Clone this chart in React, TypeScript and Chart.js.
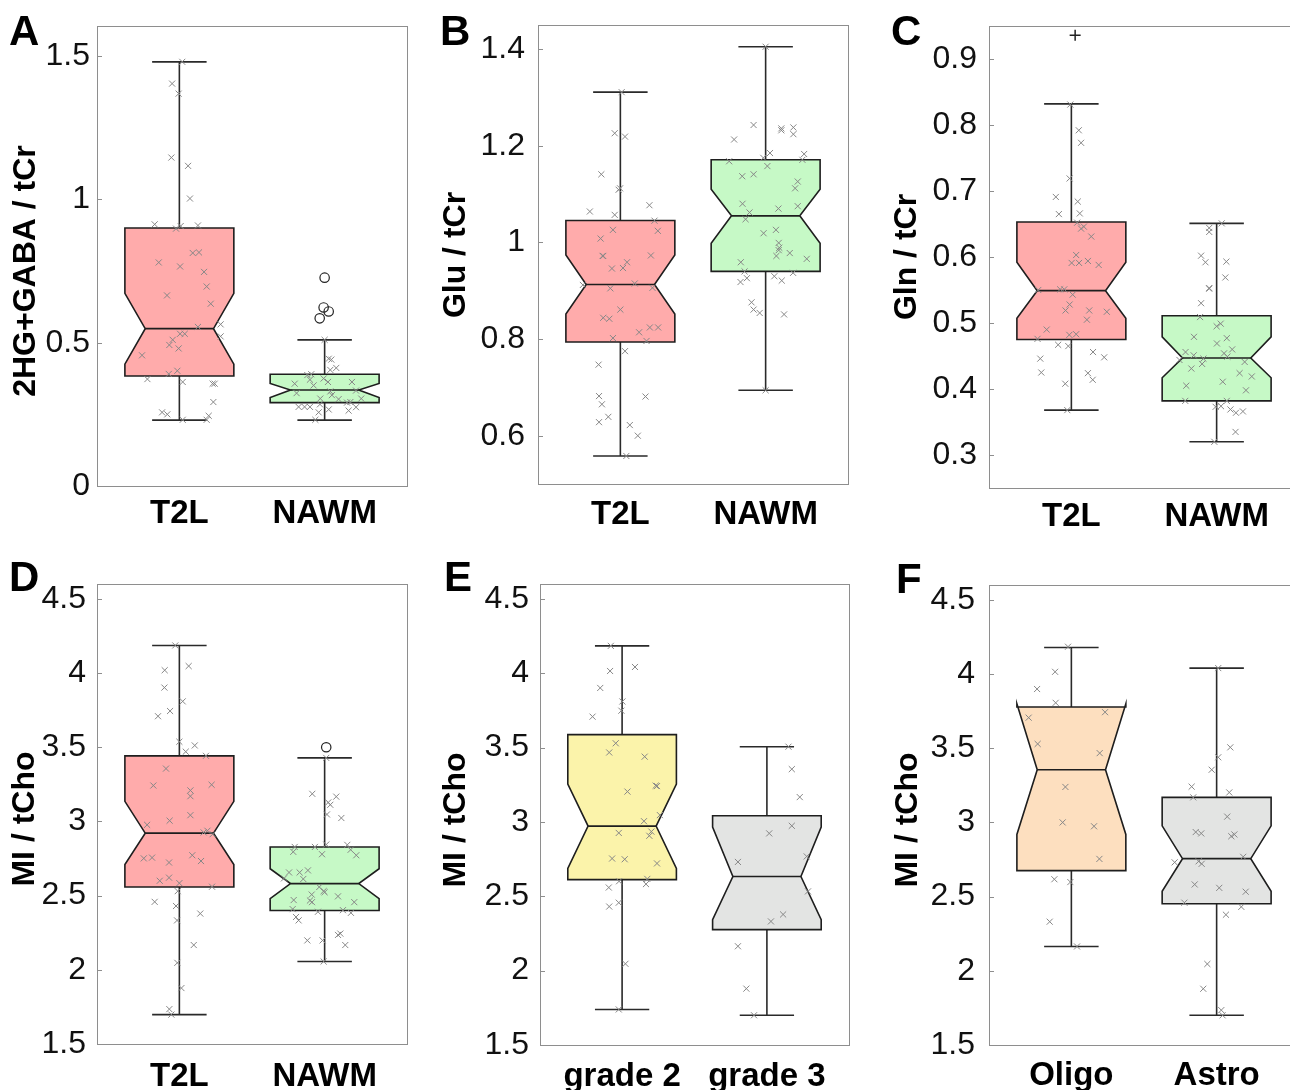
import React, { useEffect, useRef } from "react";
import { Chart, registerables } from "chart.js";

Chart.register(...registerables);

type Pt = [number, number];

// box statistics order: [whiskerLow, q1, notchLow, median, notchHigh, q3, whiskerHigh]

// ---------------- Panel A : 2HG+GABA / tCr ----------------
const catsA = ["T2L", "NAWM"];
const yTicksA = [0, 0.5, 1, 1.5];
const boxA_T2L = [0.23, 0.384, 0.425, 0.549, 0.672, 0.9, 1.48];
const boxA_NAWM = [0.23, 0.291, 0.309, 0.335, 0.358, 0.39, 0.51];
const ptsA_T2L: Pt[] = [
  [1.02, 1.48], [0.95, 1.404], [0.995, 1.369], [0.945, 1.146], [1.06, 1.117], [1.073, 1.003],
  [0.83, 0.913], [0.977, 0.898], [1.009, 0.907], [1.128, 0.909], [1.092, 0.813], [1.135, 0.815],
  [0.858, 0.78], [1.005, 0.766], [1.17, 0.747], [1.188, 0.696], [0.915, 0.665], [1.216, 0.636],
  [1.128, 0.555], [1.284, 0.564], [1.284, 0.522], [1.005, 0.531], [1.037, 0.531], [0.954, 0.51],
  [0.931, 0.492], [0.995, 0.48], [0.743, 0.456], [0.986, 0.402], [0.927, 0.391], [0.78, 0.373],
  [1.023, 0.363], [1.229, 0.357], [1.243, 0.357], [1.234, 0.293], [0.881, 0.257], [0.917, 0.25],
  [1.202, 0.245], [1.023, 0.231], [1.188, 0.231],
];
const ptsA_NAWM: Pt[] = [
  [2.0, 0.51], [2.028, 0.444], [2.046, 0.441], [2.08, 0.412], [2.039, 0.405], [1.881, 0.387],
  [1.908, 0.39], [1.993, 0.375], [2.023, 0.363], [1.794, 0.357], [1.924, 0.351], [2.188, 0.363],
  [1.899, 0.371], [2.216, 0.333], [1.807, 0.324], [2.039, 0.33], [1.97, 0.305], [2.096, 0.303],
  [2.05, 0.317], [2.154, 0.291], [2.252, 0.305], [2.177, 0.293], [1.821, 0.276], [1.862, 0.276],
  [1.899, 0.276], [1.968, 0.285], [2.028, 0.267], [2.165, 0.263], [2.216, 0.275], [1.959, 0.257],
  [1.936, 0.231],
];
const outA: Pt[] = [[2.0, 0.727], [1.993, 0.623], [2.028, 0.609], [1.966, 0.585]];

// ---------------- Panel B : Glu / tCr ----------------
const catsB = ["T2L", "NAWM"];
const yTicksB = [0.6, 0.8, 1, 1.2, 1.4];
const boxB_T2L = [0.558, 0.794, 0.852, 0.913, 0.974, 1.0455, 1.311];
const boxB_NAWM = [0.694, 0.94, 0.998, 1.055, 1.11, 1.171, 1.405];
const ptsB_T2L: Pt[] = [
  [1.009, 1.311], [0.961, 1.226], [1.032, 1.219], [0.869, 1.141], [0.988, 1.109], [0.998, 1.112],
  [0.79, 1.064], [0.961, 1.057], [1.2, 1.077], [1.235, 1.045], [1.258, 1.024], [0.949, 1.026],
  [0.864, 1.008], [0.878, 0.972], [0.882, 0.972], [1.21, 0.973], [0.942, 0.946], [1.018, 0.947],
  [1.046, 0.959], [0.742, 0.912], [1.099, 0.915], [1.221, 0.906], [0.931, 0.905], [1.0, 0.861],
  [0.882, 0.844], [0.924, 0.842], [1.129, 0.814], [1.203, 0.824], [1.26, 0.824], [0.949, 0.802],
  [1.18, 0.796], [1.032, 0.775], [0.85, 0.747], [0.853, 0.682], [0.873, 0.665], [1.173, 0.681],
  [0.917, 0.639], [0.853, 0.628], [1.065, 0.622], [1.12, 0.6], [1.041, 0.558],
];
const ptsB_NAWM: Pt[] = [
  [2.0, 1.405], [1.917, 1.243], [1.783, 1.213], [2.108, 1.236], [2.108, 1.232], [2.191, 1.238],
  [2.191, 1.224], [2.03, 1.185], [2.265, 1.183], [2.253, 1.171], [1.984, 1.175], [1.749, 1.168],
  [2.012, 1.158], [1.839, 1.137], [1.917, 1.141], [2.221, 1.126], [2.203, 1.112], [1.841, 1.08],
  [2.221, 1.075], [2.088, 1.07], [1.889, 1.062], [1.862, 1.048], [2.071, 1.026], [1.986, 1.019],
  [2.09, 0.999], [2.094, 0.989], [2.09, 0.984], [2.074, 0.972], [2.166, 0.978], [2.283, 0.966],
  [1.829, 0.959], [1.855, 0.94], [2.189, 0.937], [2.06, 0.93], [1.871, 0.926], [1.827, 0.918],
  [2.111, 0.921], [1.903, 0.876], [1.917, 0.861], [1.959, 0.854], [2.127, 0.851], [2.0, 0.694],
];

// ---------------- Panel C : Gln / tCr ----------------
const catsC = ["T2L", "NAWM"];
const yTicksC = [0.3, 0.4, 0.5, 0.6, 0.7, 0.8, 0.9];
const boxC_T2L = [0.368, 0.475, 0.507, 0.549, 0.592, 0.653, 0.832];
const boxC_NAWM = [0.32, 0.382, 0.417, 0.447, 0.479, 0.511, 0.651];
const ptsC_T2L: Pt[] = [
  [0.993, 0.831], [1.051, 0.792], [1.067, 0.773], [0.988, 0.719], [0.893, 0.691], [1.044, 0.684],
  [0.914, 0.665], [1.058, 0.666], [1.04, 0.652], [1.086, 0.646], [1.067, 0.643], [1.137, 0.631],
  [1.033, 0.603], [1.002, 0.591], [1.053, 0.591], [1.114, 0.594], [1.188, 0.588], [0.772, 0.55],
  [0.923, 0.551], [0.951, 0.551], [1.009, 0.543], [0.988, 0.528], [0.96, 0.519], [1.123, 0.519],
  [1.244, 0.517], [1.107, 0.505], [0.83, 0.49], [0.767, 0.476], [0.986, 0.482], [1.033, 0.483],
  [0.909, 0.467], [0.979, 0.465], [0.786, 0.446], [1.149, 0.456], [1.226, 0.448], [0.793, 0.425],
  [1.114, 0.424], [1.147, 0.414], [0.958, 0.408], [0.972, 0.368],
];
const ptsC_NAWM: Pt[] = [
  [2.035, 0.651], [1.949, 0.644], [1.949, 0.638], [1.893, 0.602], [1.923, 0.592], [2.067, 0.593],
  [2.06, 0.569], [1.949, 0.553], [1.949, 0.552], [1.893, 0.53], [1.886, 0.509], [2.0, 0.495],
  [2.028, 0.499], [1.844, 0.479], [2.002, 0.469], [2.07, 0.477], [2.107, 0.46], [2.051, 0.454],
  [2.074, 0.449], [1.786, 0.456], [1.842, 0.451], [1.909, 0.446], [1.744, 0.444], [1.9, 0.438],
  [2.193, 0.441], [1.826, 0.431], [2.158, 0.424], [2.242, 0.419], [2.042, 0.411], [1.791, 0.405],
  [2.202, 0.398], [1.784, 0.382], [2.07, 0.382], [1.993, 0.373], [2.03, 0.374], [2.095, 0.369],
  [2.133, 0.364], [2.181, 0.366], [2.13, 0.335], [1.984, 0.32],
];
const outC: Pt[] = [[1.026, 0.936]];

// ---------------- Panel D : MI / tCho (T2L vs NAWM) ----------------
const catsD = ["T2L", "NAWM"];
const yTicksD = [1.5, 2, 2.5, 3, 3.5, 4, 4.5];
const boxD_T2L = [1.698, 2.558, 2.709, 2.921, 3.135, 3.442, 4.186];
const boxD_NAWM = [2.056, 2.4, 2.479, 2.581, 2.681, 2.828, 3.428];
const ptsD_T2L: Pt[] = [
  [0.972, 4.186], [1.064, 4.047], [0.899, 4.019], [0.897, 3.902], [0.936, 3.744], [1.023, 3.809],
  [0.853, 3.709], [1.0, 3.537], [1.044, 3.47], [1.106, 3.512], [1.183, 3.442], [0.908, 3.356],
  [0.821, 3.242], [1.222, 3.247], [1.076, 3.209], [1.076, 3.17], [1.076, 3.042], [0.933, 3.005],
  [0.778, 2.977], [1.167, 2.926], [1.193, 2.937], [1.229, 2.914], [0.755, 2.751], [0.812, 2.756],
  [1.089, 2.772], [0.929, 2.723], [1.149, 2.733], [0.865, 2.6], [0.929, 2.621], [1.0, 2.584],
  [1.225, 2.56], [0.989, 2.53], [0.83, 2.458], [0.977, 2.43], [1.144, 2.379], [0.984, 2.333],
  [1.099, 2.167], [0.986, 2.047], [1.014, 1.877], [0.931, 1.735], [0.945, 1.698],
];
const ptsD_NAWM: Pt[] = [
  [2.011, 3.428], [1.915, 3.186], [2.025, 3.128], [2.039, 3.112], [2.08, 3.167], [2.016, 3.047],
  [2.115, 3.023], [2.011, 2.844], [1.794, 2.828], [1.784, 2.795], [1.933, 2.828], [1.982, 2.779],
  [2.156, 2.842], [2.179, 2.809], [2.218, 2.772], [1.755, 2.656], [1.828, 2.656], [1.885, 2.67],
  [1.853, 2.612], [1.72, 2.616], [1.963, 2.558], [1.993, 2.53], [2.0, 2.523], [1.911, 2.507],
  [2.092, 2.495], [1.787, 2.47], [1.899, 2.467], [1.913, 2.456], [2.204, 2.456], [1.78, 2.409],
  [1.954, 2.391], [2.126, 2.402], [2.181, 2.384], [1.803, 2.356], [1.821, 2.333], [2.092, 2.235],
  [2.108, 2.244], [2.142, 2.167], [1.881, 2.198], [1.986, 2.198], [1.993, 2.056],
];
const outD: Pt[] = [[2.011, 3.5]];

// ---------------- Panel E : MI / tCho (grade) ----------------
const catsE = ["grade 2", "grade 3"];
const yTicksE = [1.5, 2, 2.5, 3, 3.5, 4, 4.5];
const boxE_G2 = [1.739, 2.612, 2.687, 2.972, 3.255, 3.587, 4.184];
const boxE_G3 = [1.7, 2.276, 2.343, 2.633, 2.965, 3.042, 3.506];
const ptsE_G2: Pt[] = [
  [0.922, 4.184], [0.917, 4.015], [1.089, 4.042], [0.849, 3.901], [1.002, 3.81], [0.995, 3.748],
  [0.796, 3.708], [0.956, 3.529], [0.911, 3.467], [1.156, 3.439], [1.037, 3.204], [1.232, 3.244],
  [1.241, 3.241], [1.151, 3.005], [1.261, 3.046], [0.977, 2.926], [1.202, 2.935], [1.188, 2.907],
  [0.931, 2.754], [1.018, 2.749], [1.241, 2.721], [0.979, 2.601], [1.174, 2.617], [1.165, 2.582],
  [0.908, 2.559], [0.911, 2.431], [0.977, 2.457], [1.023, 2.046], [0.977, 1.739],
];
const ptsE_G3: Pt[] = [
  [2.149, 3.506], [2.172, 3.355], [2.227, 3.167], [2.172, 2.974], [2.016, 2.923], [1.8, 2.731],
  [2.275, 2.768], [2.284, 2.533], [2.112, 2.378], [2.028, 2.331], [1.8, 2.164], [1.858, 1.879],
  [1.911, 1.7],
];

// ---------------- Panel F : MI / tCho (histology) ----------------
const catsF = ["Oligo", "Astro"];
const yTicksF = [1.5, 2, 2.5, 3, 3.5, 4, 4.5];
const boxF_Oligo = [2.164, 2.675, 2.919, 3.355, 3.8, 3.778, 4.179];
const boxF_Astro = [1.7, 2.452, 2.536, 2.756, 2.977, 3.169, 4.04];
const ptsF_Oligo: Pt[] = [
  [0.977, 4.184], [0.888, 4.015], [0.764, 3.899], [0.892, 3.806], [0.706, 3.706], [1.232, 3.743],
  [0.768, 3.529], [1.195, 3.467], [0.959, 3.239], [0.94, 3.0], [1.156, 2.974], [1.193, 2.754],
  [0.883, 2.617], [0.993, 2.598], [0.851, 2.331], [1.039, 2.164],
];
const ptsF_Astro: Pt[] = [
  [2.011, 4.04], [2.094, 3.506], [2.011, 3.439], [1.966, 3.355], [1.828, 3.241], [2.087, 3.202],
  [1.839, 3.169], [2.073, 3.039], [1.856, 2.935], [1.894, 2.926], [2.101, 2.907], [2.122, 2.919],
  [1.711, 2.731], [1.876, 2.738], [1.897, 2.721], [2.183, 2.768], [1.849, 2.582], [2.018, 2.559],
  [2.2, 2.533], [1.778, 2.459], [2.17, 2.431], [2.064, 2.378], [1.936, 2.046], [1.908, 1.879],
  [2.032, 1.735], [2.041, 1.7],
];

// ---------------- colours ----------------
const RED = "#ffabab";
const GREEN = "#c6f9c6";
const YELLOW = "#fbf3aa";
const GREY = "#e3e4e3";
const PEACH = "#fddfbf";

const FONT = '"Liberation Sans", Arial, Helvetica, sans-serif';

interface PanelCfg {
  letter: string;
  ylabel: string;
  cats: string[];
  yTicks: number[];
  yMin: number;
  yMax: number;
  boxes: number[][];
  colors: string[];
  points: Pt[][];
  outliers: Pt[];
  outlierStyle: "circle" | "cross";
  canvas: { x: number; y: number; w: number; h: number };
  frame: { l: number; t: number; r: number; b: number };
  tickPad: number;
  xPad: number;
  titleX: number;
  titleY: number;
  letterX: number;
  letterY: number;
}

const panels: PanelCfg[] = [
  {
    letter: "A", ylabel: "2HG+GABA / tCr", cats: catsA, yTicks: yTicksA, yMin: 0, yMax: 1.605,
    boxes: [boxA_T2L, boxA_NAWM], colors: [RED, GREEN], points: [ptsA_T2L, ptsA_NAWM],
    outliers: outA, outlierStyle: "circle",
    canvas: { x: 0, y: 0, w: 430, h: 545 }, frame: { l: 97, t: 26, r: 407, b: 486 },
    tickPad: 7, xPad: 8, titleX: 26, titleY: 271, letterX: 9, letterY: 45,
  },
  {
    letter: "B", ylabel: "Glu / tCr", cats: catsB, yTicks: yTicksB, yMin: 0.5, yMax: 1.45,
    boxes: [boxB_T2L, boxB_NAWM], colors: [RED, GREEN], points: [ptsB_T2L, ptsB_NAWM],
    outliers: [], outlierStyle: "circle",
    canvas: { x: 430, y: 0, w: 440, h: 545 }, frame: { l: 538, t: 25, r: 848, b: 484 },
    tickPad: 13, xPad: 11, titleX: 456, titleY: 255, letterX: 440, letterY: 45,
  },
  {
    letter: "C", ylabel: "Gln / tCr", cats: catsC, yTicks: yTicksC, yMin: 0.25, yMax: 0.95,
    boxes: [boxC_T2L, boxC_NAWM], colors: [RED, GREEN], points: [ptsC_T2L, ptsC_NAWM],
    outliers: outC, outlierStyle: "cross",
    canvas: { x: 870, y: 0, w: 450, h: 545 }, frame: { l: 989, t: 26, r: 1299, b: 488 },
    tickPad: 12, xPad: 9, titleX: 907, titleY: 257, letterX: 891, letterY: 45,
  },
  {
    letter: "D", ylabel: "MI / tCho", cats: catsD, yTicks: yTicksD, yMin: 1.5, yMax: 4.6,
    boxes: [boxD_T2L, boxD_NAWM], colors: [RED, GREEN], points: [ptsD_T2L, ptsD_NAWM],
    outliers: outD, outlierStyle: "circle",
    canvas: { x: 0, y: 545, w: 430, h: 545 }, frame: { l: 97, t: 584, r: 407, b: 1044 },
    tickPad: 11, xPad: 13, titleX: 25, titleY: 819, letterX: 9, letterY: 591,
  },
  {
    letter: "E", ylabel: "MI / tCho", cats: catsE, yTicks: yTicksE, yMin: 1.5, yMax: 4.6,
    boxes: [boxE_G2, boxE_G3], colors: [YELLOW, GREY], points: [ptsE_G2, ptsE_G3],
    outliers: [], outlierStyle: "circle",
    canvas: { x: 430, y: 545, w: 440, h: 545 }, frame: { l: 540, t: 584, r: 849, b: 1045 },
    tickPad: 11, xPad: 12, titleX: 456, titleY: 820, letterX: 444, letterY: 591,
  },
  {
    letter: "F", ylabel: "MI / tCho", cats: catsF, yTicks: yTicksF, yMin: 1.5, yMax: 4.6,
    boxes: [boxF_Oligo, boxF_Astro], colors: [PEACH, GREY], points: [ptsF_Oligo, ptsF_Astro],
    outliers: [], outlierStyle: "circle",
    canvas: { x: 870, y: 545, w: 450, h: 545 }, frame: { l: 989, t: 585, r: 1299, b: 1045 },
    tickPad: 14, xPad: 11, titleX: 908, titleY: 820, letterX: 896, letterY: 593,
  },
];

const BOX_HALF = 0.375;
const NOTCH_HALF = 0.235;
const CAP_HALF = 0.1875;

function makePlugin(cfg: PanelCfg) {
  return {
    id: "boxplot_" + cfg.letter,
    beforeDatasetsDraw(chart: any) {
      const ctx: CanvasRenderingContext2D = chart.ctx;
      const xs = chart.scales.x;
      const ys = chart.scales.y;
      cfg.boxes.forEach((st, i) => {
        const c = i + 1;
        const [wLo, q1, nLo, med, nHi, q3, wHi] = st;
        const X = (d: number) => xs.getPixelForValue(c + d);
        const Y = (v: number) => ys.getPixelForValue(v);
        ctx.save();
        ctx.lineJoin = "miter";
        // whiskers
        ctx.strokeStyle = "#2a2a2a";
        ctx.lineWidth = 1.6;
        ctx.beginPath();
        ctx.moveTo(X(0), Y(q3));
        ctx.lineTo(X(0), Y(wHi));
        ctx.moveTo(X(0), Y(q1));
        ctx.lineTo(X(0), Y(wLo));
        ctx.moveTo(X(-CAP_HALF), Y(wHi));
        ctx.lineTo(X(CAP_HALF), Y(wHi));
        ctx.moveTo(X(-CAP_HALF), Y(wLo));
        ctx.lineTo(X(CAP_HALF), Y(wLo));
        ctx.stroke();
        // notched box
        ctx.beginPath();
        ctx.moveTo(X(-BOX_HALF), Y(q1));
        ctx.lineTo(X(-BOX_HALF), Y(nLo));
        ctx.lineTo(X(-NOTCH_HALF), Y(med));
        ctx.lineTo(X(-BOX_HALF), Y(nHi));
        ctx.lineTo(X(-BOX_HALF), Y(q3));
        ctx.lineTo(X(BOX_HALF), Y(q3));
        ctx.lineTo(X(BOX_HALF), Y(nHi));
        ctx.lineTo(X(NOTCH_HALF), Y(med));
        ctx.lineTo(X(BOX_HALF), Y(nLo));
        ctx.lineTo(X(BOX_HALF), Y(q1));
        ctx.closePath();
        ctx.fillStyle = cfg.colors[i];
        ctx.fill();
        ctx.strokeStyle = "#1e1e1e";
        ctx.lineWidth = 1.6;
        ctx.stroke();
        // median
        ctx.beginPath();
        ctx.moveTo(X(-NOTCH_HALF), Y(med));
        ctx.lineTo(X(NOTCH_HALF), Y(med));
        ctx.stroke();
        ctx.restore();
      });
    },
    afterDraw(chart: any) {
      const ctx: CanvasRenderingContext2D = chart.ctx;
      const a = chart.chartArea;
      const ys = chart.scales.y;
      ctx.save();
      // frame
      ctx.strokeStyle = "#8e8e8e";
      ctx.lineWidth = 1;
      ctx.strokeRect(Math.round(a.left) + 0.5, Math.round(a.top) + 0.5,
        Math.round(a.right - a.left), Math.round(a.bottom - a.top));
      // inward tick marks on y axis
      ctx.beginPath();
      cfg.yTicks.forEach((v) => {
        const y = Math.round(ys.getPixelForValue(v)) + 0.5;
        ctx.moveTo(a.left, y);
        ctx.lineTo(a.left + 5, y);
      });
      ctx.stroke();
      // y-axis title
      ctx.fillStyle = "#000";
      ctx.font = `bold 32px ${FONT}`;
      ctx.textAlign = "center";
      ctx.textBaseline = "middle";
      ctx.translate(cfg.titleX - cfg.canvas.x, cfg.titleY - cfg.canvas.y);
      ctx.rotate(-Math.PI / 2);
      ctx.fillText(cfg.ylabel, 0, 0);
      ctx.restore();
      // panel letter
      ctx.save();
      ctx.fillStyle = "#000";
      ctx.font = `bold 42px ${FONT}`;
      ctx.textAlign = "left";
      ctx.textBaseline = "alphabetic";
      ctx.fillText(cfg.letter, cfg.letterX - cfg.canvas.x, cfg.letterY - cfg.canvas.y);
      ctx.restore();
    },
  };
}

function Panel({ cfg }: { cfg: PanelCfg }) {
  const ref = useRef<HTMLCanvasElement>(null);
  useEffect(() => {
    const canvas = ref.current;
    if (!canvas) return;
    const datasets: any[] = cfg.points.map((pts) => ({
      type: "scatter",
      data: pts.map(([x, y]) => ({ x, y })),
      pointStyle: "crossRot",
      pointRadius: 4.3,
      pointBorderWidth: 1,
      pointBorderColor: "#878787",
      pointBackgroundColor: "rgba(0,0,0,0)",
      showLine: false,
    }));
    if (cfg.outliers.length) {
      datasets.push({
        type: "scatter",
        data: cfg.outliers.map(([x, y]) => ({ x, y })),
        pointStyle: cfg.outlierStyle,
        pointRadius: cfg.outlierStyle === "circle" ? 4.7 : 5.5,
        pointBorderWidth: cfg.outlierStyle === "circle" ? 1.2 : 1.5,
        pointBorderColor: "#222",
        pointBackgroundColor: "rgba(0,0,0,0)",
        showLine: false,
      });
    }
    const yw = cfg.frame.l - cfg.canvas.x;
    const xh = cfg.canvas.y + cfg.canvas.h - cfg.frame.b;
    const chart = new Chart(canvas, {
      type: "scatter",
      data: { datasets },
      options: {
        animation: false,
        responsive: false,
        devicePixelRatio: 1,
        events: [],
        layout: {
          padding: {
            left: 0,
            top: cfg.frame.t - cfg.canvas.y,
            right: cfg.canvas.x + cfg.canvas.w - cfg.frame.r,
            bottom: 0,
          },
        },
        plugins: { legend: { display: false }, tooltip: { enabled: false }, title: { display: false } },
        scales: {
          x: {
            type: "linear",
            min: 0.433,
            max: 2.567,
            grid: { display: false, drawTicks: false, tickLength: 0 },
            border: { display: false },
            ticks: {
              autoSkip: false,
              maxRotation: 0,
              minRotation: 0,
              padding: cfg.xPad,
              color: "#000",
              font: { family: FONT, size: 33, weight: "bold" },
              callback: (v: any) => cfg.cats[Math.round(Number(v)) - 1] ?? "",
            },
            afterBuildTicks: (s: any) => {
              s.ticks = cfg.cats.map((_, i) => ({ value: i + 1 }));
            },
            afterFit: (s: any) => {
              s.height = xh;
              s.paddingLeft = 0;
              s.paddingRight = 0;
            },
          },
          y: {
            type: "linear",
            min: cfg.yMin,
            max: cfg.yMax,
            grid: { display: false, drawTicks: false, tickLength: 0 },
            border: { display: false },
            ticks: {
              padding: cfg.tickPad,
              color: "#111",
              font: { family: FONT, size: 32 },
              callback: (v: any) => String(Number(Number(v).toFixed(3))),
            },
            afterBuildTicks: (s: any) => {
              s.ticks = cfg.yTicks.map((v) => ({ value: v }));
            },
            afterFit: (s: any) => {
              s.width = yw;
              s.paddingTop = 0;
              s.paddingBottom = 0;
            },
          },
        },
      } as any,
      plugins: [makePlugin(cfg)],
    });
    return () => chart.destroy();
  }, [cfg]);
  return (
    <canvas
      ref={ref}
      width={cfg.canvas.w}
      height={cfg.canvas.h}
      style={{ position: "absolute", left: cfg.canvas.x, top: cfg.canvas.y, width: cfg.canvas.w, height: cfg.canvas.h }}
    />
  );
}

export default function App() {
  return (
    <div
      style={{
        position: "absolute",
        left: 0,
        top: 0,
        width: 1290,
        height: 1090,
        overflow: "hidden",
        background: "#fff",
      }}
    >
      {panels.map((p) => (
        <Panel key={p.letter} cfg={p} />
      ))}
    </div>
  );
}
